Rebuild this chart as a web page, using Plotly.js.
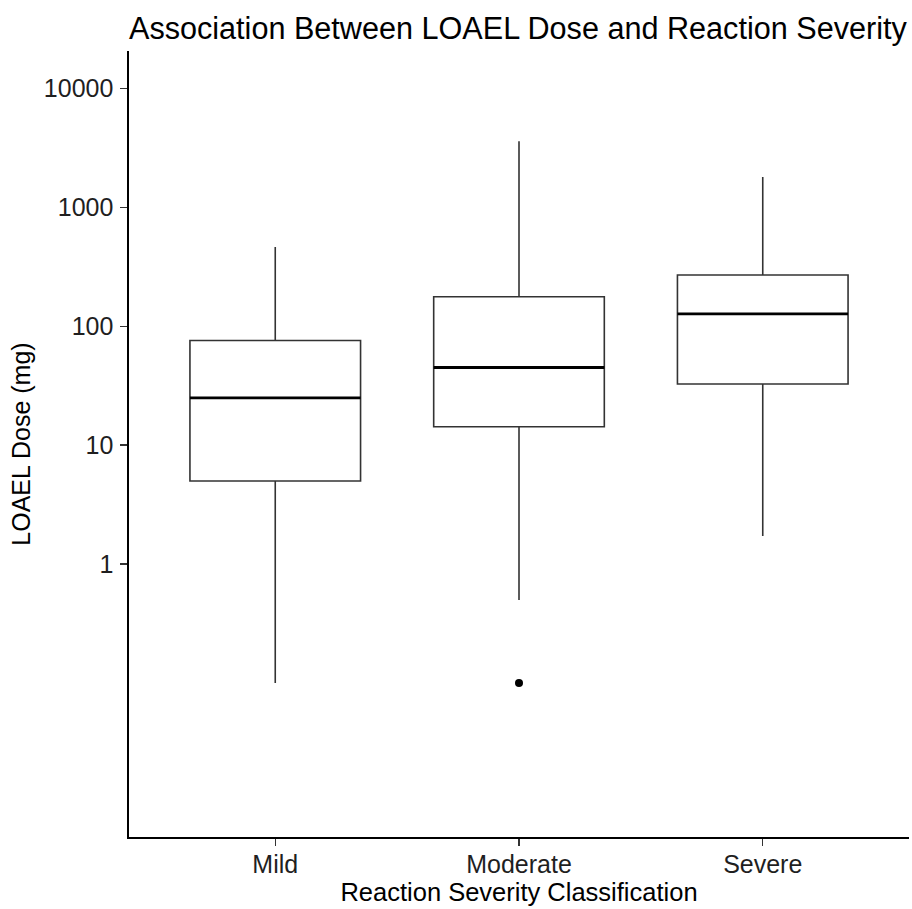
<!DOCTYPE html>
<html>
<head>
<meta charset="utf-8">
<script src="https://cdn.plot.ly/plotly-3.0.1.min.js"></script>
<style>html,body{margin:0;padding:0;background:#fff;}#chart{width:912px;height:909px;}</style>
</head>
<body>
<div id="chart"></div>
<script>
const categories = ["Mild", "Moderate", "Severe"];
const lowerWhisker = [0.1, 0.5, 1.72];
const q1Values = [5, 14.3, 32.7];
const medianValues = [25, 45, 127];
const q3Values = [76, 177, 270];
const upperWhisker = [465, 3600, 1800];
const outlierCategories = ["Moderate"];
const outlierValues = [0.1];
const yTickValues = [1, 10, 100, 1000, 10000];
const yTickLabels = ["1", "10", "100", "1000", "10000"];

const FONT = "Liberation Sans, Arial, sans-serif";

const boxTrace = {
  type: "box",
  x: categories,
  q1: q1Values,
  median: medianValues,
  q3: q3Values,
  lowerfence: lowerWhisker,
  upperfence: upperWhisker,
  width: 0.7,
  whiskerwidth: 0,
  boxpoints: false,
  fillcolor: "#ffffff",
  line: {color: "#333333", width: 1.6},
  hoverinfo: "skip",
  showlegend: false
};

const medianTrace = {
  type: "box",
  x: categories,
  q1: medianValues,
  median: medianValues,
  q3: medianValues,
  lowerfence: medianValues,
  upperfence: medianValues,
  width: 0.7,
  whiskerwidth: 0,
  boxpoints: false,
  fillcolor: "rgba(0,0,0,0)",
  line: {color: "#000000", width: 2.8},
  hoverinfo: "skip",
  showlegend: false
};

const outlierTrace = {
  type: "scatter",
  mode: "markers",
  x: outlierCategories,
  y: outlierValues,
  marker: {color: "#000000", size: 8},
  hoverinfo: "skip",
  showlegend: false
};

const layout = {
  width: 912,
  height: 909,
  paper_bgcolor: "#ffffff",
  plot_bgcolor: "#ffffff",
  margin: {l: 129, r: 3, t: 51, b: 72},
  font: {family: FONT, color: "#000000"},
  showlegend: false,
  title: {
    text: "Association Between LOAEL Dose and Reaction Severity",
    font: {family: FONT, size: 30.6, color: "#000000"},
    xref: "paper", x: 0, xanchor: "left",
    yref: "container", y: 1 - 28/909, yanchor: "middle"
  },
  xaxis: {
    type: "category",
    categoryorder: "array",
    categoryarray: categories,
    range: [-0.6, 2.6],
    showgrid: false,
    zeroline: false,
    showline: true,
    linecolor: "#000000",
    linewidth: 1.6,
    ticks: "outside",
    ticklen: 7,
    tickwidth: 1.4,
    tickcolor: "#333333",
    ticklabelstandoff: -3,
    tickfont: {family: FONT, size: 25, color: "#1f1f1f"},
    title: {text: "Reaction Severity Classification", font: {family: FONT, size: 25.5, color: "#000000"}, standoff: 3}
  },
  yaxis: {
    type: "log",
    range: [-2.295, 4.315],
    tickvals: yTickValues,
    ticktext: yTickLabels,
    showgrid: false,
    zeroline: false,
    showline: true,
    linecolor: "#000000",
    linewidth: 1.6,
    ticks: "outside",
    ticklen: 7,
    tickwidth: 1.4,
    tickcolor: "#333333",
    ticklabelstandoff: 2,
    tickfont: {family: FONT, size: 25, color: "#1f1f1f"},
    title: {text: "LOAEL Dose (mg)", font: {family: FONT, size: 25, color: "#000000"}, standoff: 6}
  }
};

Plotly.newPlot("chart", [boxTrace, medianTrace, outlierTrace], layout, {displayModeBar: false, staticPlot: true});
</script>
</body>
</html>
